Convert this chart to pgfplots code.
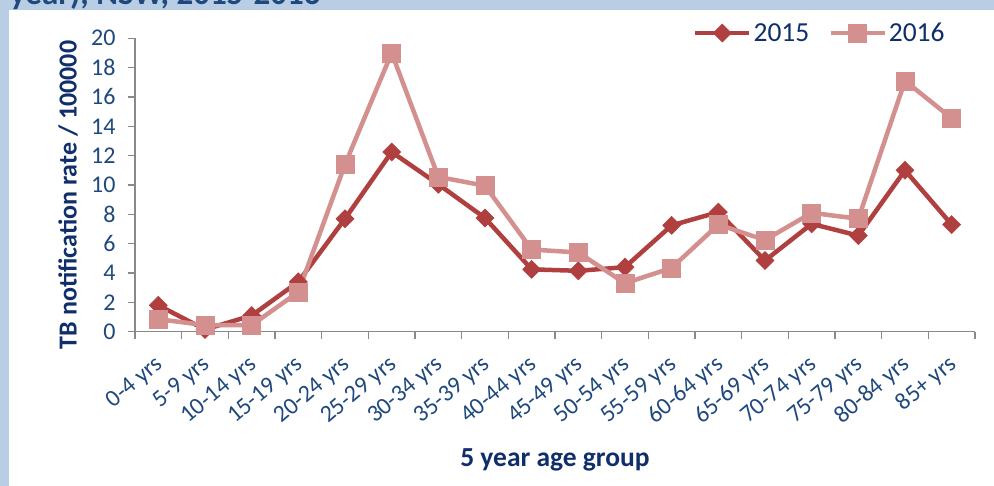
\documentclass[border=0pt]{standalone}
\usepackage{pgfplots}
\pgfplotsset{compat=1.18}
\usepackage{fontspec}
\setmainfont{Carlito}
\definecolor{band}{HTML}{B9CDE5}
\definecolor{c2015}{HTML}{B0403F}
\definecolor{c2016}{HTML}{D48F8F}
\definecolor{ticktext}{HTML}{1F497D}
\definecolor{navy}{HTML}{102F6A}
\definecolor{axgray}{HTML}{898989}
\begin{document}
\begin{tikzpicture}[x=1pt,y=1pt]
\fill[band] (0,0) rectangle (9,486);
\fill[band] (0,476) rectangle (994,486);
\node[anchor=base west,inner sep=0pt,font=\fontsize{33}{36}\selectfont\bfseries,text=ticktext] at (10,481) {year), NSW, 2015-2016};
\begin{axis}[
  at={(135pt,154.3pt)}, anchor=south west,
  scale only axis, width=840pt, height=293.4pt,
  xmin=-0.5, xmax=17.5, ymin=0, ymax=20,
  axis x line=bottom, axis y line=left,
  axis line style={axgray, line width=1.5pt, -},
  xtick={0,...,17},
  xticklabels={0-4 yrs,5-9 yrs,10-14 yrs,15-19 yrs,20-24 yrs,25-29 yrs,30-34 yrs,35-39 yrs,40-44 yrs,45-49 yrs,50-54 yrs,55-59 yrs,60-64 yrs,65-69 yrs,70-74 yrs,75-79 yrs,80-84 yrs,85+ yrs},
  minor xtick={-0.5,0.5,...,17.5},
  ytick={0,2,...,20},
  tick align=outside,
  major tick length=7pt, minor tick length=7pt,
  x tick style={draw=none},
  minor x tick style={draw=axgray, line width=1.2pt},
  y tick style={draw=axgray, line width=1.2pt},
  tick label style={font=\fontsize{24}{26}\selectfont, text=ticktext},
  /pgf/number format/assume math mode=true,
  xticklabel style={xshift=2pt, yshift=-23pt, rotate=40, anchor=east, inner sep=0pt},
  yticklabel style={xshift=-9pt},
  ylabel={TB notification rate / 100000},
  ylabel style={at={(axis description cs:-0.0798,0.466)}, anchor=center, font=\fontsize{26}{28}\selectfont\bfseries, text=navy},
  xlabel={5 year age group},
  xlabel style={at={(axis description cs:0.5,-0.461)}, anchor=base, font=\fontsize{27.5}{30}\selectfont\bfseries, text=navy},
  legend columns=2,
  legend style={at={(axis description cs:0.970,1.018)}, anchor=east, draw=none, fill=none,
    font=\fontsize{27.5}{29}\selectfont, text=navy,
    /tikz/every even column/.append style={column sep=17pt}},
  legend image code/.code={\draw[mark repeat=2,mark phase=2,#1] plot coordinates {(0pt,0pt)(27pt,0pt)(54pt,0pt)};},
  clip=false,
]
\addplot[c2015, line width=4.5pt, mark=square*, mark size=6.4pt, mark options={solid, rotate=45, line width=0.5pt, fill=c2015}] coordinates {
(0,1.8) (1,0.15) (2,1.1) (3,3.4) (4,7.7) (5,12.25) (6,10.05) (7,7.75) (8,4.25) (9,4.15) (10,4.4) (11,7.25) (12,8.15) (13,4.85) (14,7.35) (15,6.55) (16,11.0) (17,7.3)
};
\addlegendentry{2015}
\addplot[c2016, line width=4.5pt, mark=square*, mark size=9pt, mark options={solid, line width=0.5pt, fill=c2016}] coordinates {
(0,0.85) (1,0.45) (2,0.45) (3,2.7) (4,11.4) (5,19.0) (6,10.55) (7,9.95) (8,5.6) (9,5.4) (10,3.3) (11,4.35) (12,7.3) (13,6.25) (14,8.1) (15,7.7) (16,17.1) (17,14.55)
};
\addlegendentry{2016}
\end{axis}
\pgfresetboundingbox
\path[use as bounding box] (0,0) rectangle (994,486);
\end{tikzpicture}
\end{document}
